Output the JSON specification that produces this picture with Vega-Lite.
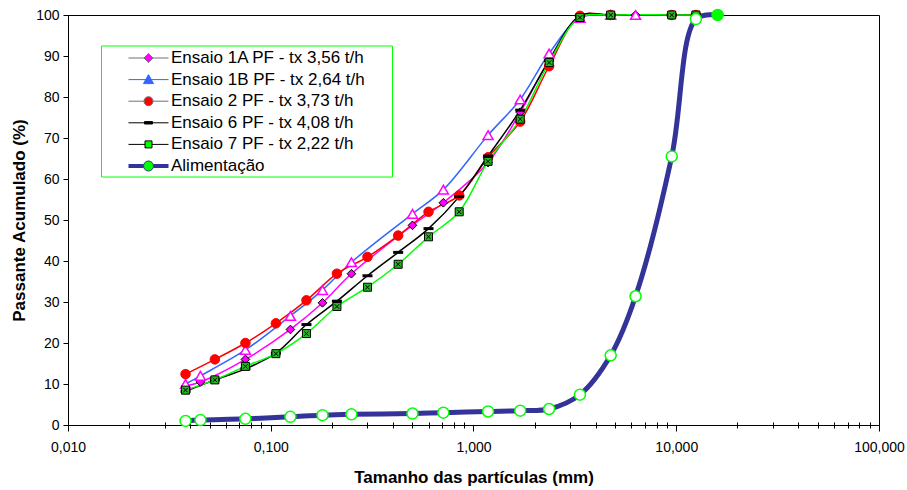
{
  "$schema": "https://vega.github.io/schema/vega-lite/v6.json",
  "width": 811,
  "height": 410,
  "autosize": {"type": "none"},
  "padding": {"left": 68, "top": 15, "right": 28, "bottom": 65},
  "background": "white",
  "config": {
    "font": "Liberation Sans",
    "view": {"stroke": "black", "strokeWidth": 1},
    "axis": {"grid": false, "domainColor": "black", "tickColor": "black", "labelColor": "black", "titleColor": "black", "labelFlush": false, "labelOverlap": false},
    "legend": {"title": null, "orient": "none", "legendX": 33, "legendY": 30.5, "padding": 2, "fillColor": "white", "strokeColor": "#00FF00", "symbolSize": 400, "symbolStrokeWidth": 1, "symbolOffset": 35, "labelOffset": 12, "labelFontSize": 17, "labelColor": "black", "rowPadding": 2.6, "symbolOpacity": 1, "labelLimit": 0}
  },
  "datasets": {
    "pts": [
      {"s": "Ensaio 1A PF - tx 3,56 t/h", "d": 0.038, "p": 9.5},
      {"s": "Ensaio 1A PF - tx 3,56 t/h", "d": 0.045, "p": 10.5},
      {"s": "Ensaio 1A PF - tx 3,56 t/h", "d": 0.075, "p": 16.0},
      {"s": "Ensaio 1A PF - tx 3,56 t/h", "d": 0.125, "p": 23.3},
      {"s": "Ensaio 1A PF - tx 3,56 t/h", "d": 0.18, "p": 29.8},
      {"s": "Ensaio 1A PF - tx 3,56 t/h", "d": 0.25, "p": 36.9},
      {"s": "Ensaio 1A PF - tx 3,56 t/h", "d": 0.5, "p": 48.7},
      {"s": "Ensaio 1A PF - tx 3,56 t/h", "d": 0.71, "p": 54.2},
      {"s": "Ensaio 1A PF - tx 3,56 t/h", "d": 1.18, "p": 64.0},
      {"s": "Ensaio 1A PF - tx 3,56 t/h", "d": 1.7, "p": 76.3},
      {"s": "Ensaio 1A PF - tx 3,56 t/h", "d": 2.36, "p": 89.0},
      {"s": "Ensaio 1A PF - tx 3,56 t/h", "d": 3.35, "p": 99.5},
      {"s": "Ensaio 1A PF - tx 3,56 t/h", "d": 4.75, "p": 100},
      {"s": "Ensaio 1A PF - tx 3,56 t/h", "d": 6.3, "p": 100},
      {"s": "Ensaio 1B PF - tx 2,64 t/h", "d": 0.038, "p": 10.0},
      {"s": "Ensaio 1B PF - tx 2,64 t/h", "d": 0.045, "p": 12.0},
      {"s": "Ensaio 1B PF - tx 2,64 t/h", "d": 0.075, "p": 18.3},
      {"s": "Ensaio 1B PF - tx 2,64 t/h", "d": 0.125, "p": 26.6},
      {"s": "Ensaio 1B PF - tx 2,64 t/h", "d": 0.18, "p": 32.9},
      {"s": "Ensaio 1B PF - tx 2,64 t/h", "d": 0.25, "p": 39.7},
      {"s": "Ensaio 1B PF - tx 2,64 t/h", "d": 0.5, "p": 51.5},
      {"s": "Ensaio 1B PF - tx 2,64 t/h", "d": 0.71, "p": 57.4},
      {"s": "Ensaio 1B PF - tx 2,64 t/h", "d": 1.18, "p": 70.7},
      {"s": "Ensaio 1B PF - tx 2,64 t/h", "d": 1.7, "p": 79.4},
      {"s": "Ensaio 1B PF - tx 2,64 t/h", "d": 2.36, "p": 90.6},
      {"s": "Ensaio 1B PF - tx 2,64 t/h", "d": 3.35, "p": 99.3},
      {"s": "Ensaio 1B PF - tx 2,64 t/h", "d": 4.75, "p": 100},
      {"s": "Ensaio 1B PF - tx 2,64 t/h", "d": 6.3, "p": 100},
      {"s": "Ensaio 2 PF - tx 3,73 t/h", "d": 0.038, "p": 12.4},
      {"s": "Ensaio 2 PF - tx 3,73 t/h", "d": 0.053, "p": 16.0},
      {"s": "Ensaio 2 PF - tx 3,73 t/h", "d": 0.075, "p": 20.0},
      {"s": "Ensaio 2 PF - tx 3,73 t/h", "d": 0.106, "p": 24.8},
      {"s": "Ensaio 2 PF - tx 3,73 t/h", "d": 0.15, "p": 30.4},
      {"s": "Ensaio 2 PF - tx 3,73 t/h", "d": 0.212, "p": 36.9},
      {"s": "Ensaio 2 PF - tx 3,73 t/h", "d": 0.3, "p": 41.0},
      {"s": "Ensaio 2 PF - tx 3,73 t/h", "d": 0.425, "p": 46.2},
      {"s": "Ensaio 2 PF - tx 3,73 t/h", "d": 0.6, "p": 52.0},
      {"s": "Ensaio 2 PF - tx 3,73 t/h", "d": 0.85, "p": 56.0},
      {"s": "Ensaio 2 PF - tx 3,73 t/h", "d": 1.18, "p": 65.3},
      {"s": "Ensaio 2 PF - tx 3,73 t/h", "d": 1.7, "p": 74.0},
      {"s": "Ensaio 2 PF - tx 3,73 t/h", "d": 2.36, "p": 87.5},
      {"s": "Ensaio 2 PF - tx 3,73 t/h", "d": 3.35, "p": 99.8},
      {"s": "Ensaio 2 PF - tx 3,73 t/h", "d": 4.75, "p": 100},
      {"s": "Ensaio 2 PF - tx 3,73 t/h", "d": 9.5, "p": 100},
      {"s": "Ensaio 2 PF - tx 3,73 t/h", "d": 12.5, "p": 100},
      {"s": "Ensaio 6 PF - tx 4,08 t/h", "d": 0.038, "p": 8.2},
      {"s": "Ensaio 6 PF - tx 4,08 t/h", "d": 0.053, "p": 11.0},
      {"s": "Ensaio 6 PF - tx 4,08 t/h", "d": 0.075, "p": 13.7},
      {"s": "Ensaio 6 PF - tx 4,08 t/h", "d": 0.106, "p": 17.5},
      {"s": "Ensaio 6 PF - tx 4,08 t/h", "d": 0.15, "p": 24.5},
      {"s": "Ensaio 6 PF - tx 4,08 t/h", "d": 0.212, "p": 30.2},
      {"s": "Ensaio 6 PF - tx 4,08 t/h", "d": 0.3, "p": 36.4},
      {"s": "Ensaio 6 PF - tx 4,08 t/h", "d": 0.425, "p": 42.1},
      {"s": "Ensaio 6 PF - tx 4,08 t/h", "d": 0.6, "p": 47.9},
      {"s": "Ensaio 6 PF - tx 4,08 t/h", "d": 0.85, "p": 55.7},
      {"s": "Ensaio 6 PF - tx 4,08 t/h", "d": 1.18, "p": 65.6},
      {"s": "Ensaio 6 PF - tx 4,08 t/h", "d": 1.7, "p": 76.8},
      {"s": "Ensaio 6 PF - tx 4,08 t/h", "d": 2.36, "p": 88.9},
      {"s": "Ensaio 6 PF - tx 4,08 t/h", "d": 3.35, "p": 99.8},
      {"s": "Ensaio 6 PF - tx 4,08 t/h", "d": 4.75, "p": 100},
      {"s": "Ensaio 6 PF - tx 4,08 t/h", "d": 9.5, "p": 100},
      {"s": "Ensaio 6 PF - tx 4,08 t/h", "d": 12.5, "p": 100},
      {"s": "Ensaio 7 PF - tx 2,22 t/h", "d": 0.038, "p": 8.5},
      {"s": "Ensaio 7 PF - tx 2,22 t/h", "d": 0.053, "p": 11.0},
      {"s": "Ensaio 7 PF - tx 2,22 t/h", "d": 0.075, "p": 14.3},
      {"s": "Ensaio 7 PF - tx 2,22 t/h", "d": 0.106, "p": 17.4},
      {"s": "Ensaio 7 PF - tx 2,22 t/h", "d": 0.15, "p": 22.3},
      {"s": "Ensaio 7 PF - tx 2,22 t/h", "d": 0.212, "p": 28.9},
      {"s": "Ensaio 7 PF - tx 2,22 t/h", "d": 0.3, "p": 33.6},
      {"s": "Ensaio 7 PF - tx 2,22 t/h", "d": 0.425, "p": 39.2},
      {"s": "Ensaio 7 PF - tx 2,22 t/h", "d": 0.6, "p": 45.9},
      {"s": "Ensaio 7 PF - tx 2,22 t/h", "d": 0.85, "p": 52.0},
      {"s": "Ensaio 7 PF - tx 2,22 t/h", "d": 1.18, "p": 64.3},
      {"s": "Ensaio 7 PF - tx 2,22 t/h", "d": 1.7, "p": 74.6},
      {"s": "Ensaio 7 PF - tx 2,22 t/h", "d": 2.36, "p": 88.4},
      {"s": "Ensaio 7 PF - tx 2,22 t/h", "d": 3.35, "p": 99.4},
      {"s": "Ensaio 7 PF - tx 2,22 t/h", "d": 4.75, "p": 100},
      {"s": "Ensaio 7 PF - tx 2,22 t/h", "d": 9.5, "p": 100},
      {"s": "Ensaio 7 PF - tx 2,22 t/h", "d": 12.5, "p": 100},
      {"s": "Alimentação", "d": 0.038, "p": 1.0},
      {"s": "Alimentação", "d": 0.045, "p": 1.2},
      {"s": "Alimentação", "d": 0.075, "p": 1.5},
      {"s": "Alimentação", "d": 0.125, "p": 2.0},
      {"s": "Alimentação", "d": 0.18, "p": 2.4},
      {"s": "Alimentação", "d": 0.25, "p": 2.6},
      {"s": "Alimentação", "d": 0.5, "p": 2.8},
      {"s": "Alimentação", "d": 0.71, "p": 3.0},
      {"s": "Alimentação", "d": 1.18, "p": 3.3},
      {"s": "Alimentação", "d": 1.7, "p": 3.5},
      {"s": "Alimentação", "d": 2.36, "p": 3.9},
      {"s": "Alimentação", "d": 3.35, "p": 7.4},
      {"s": "Alimentação", "d": 4.75, "p": 17.0},
      {"s": "Alimentação", "d": 6.3, "p": 31.4},
      {"s": "Alimentação", "d": 9.5, "p": 65.5},
      {"s": "Alimentação", "d": 12.5, "p": 99.0},
      {"s": "Alimentação", "d": 16, "p": 100}
    ]
  },
  "data": {"name": "pts"},
  "layer": [
    {
      "encoding": {
        "x": {
          "field": "d", "type": "quantitative",
          "scale": {"type": "log", "domain": [0.01, 100], "nice": false},
          "axis": {
            "orient": "bottom",
            "values": [0.01, 0.1, 1, 10, 100],
            "labelExpr": "replace(format(datum.value, '.3f'), '.', ',')",
            "tickSize": 6, "labelPadding": 9, "labelFontSize": 14,
            "title": "Tamanho das partículas (mm)", "titleFontSize": 17, "titleFontWeight": "bold",
            "titleY": 57, "titleBaseline": "alphabetic"
          }
        },
        "y": {
          "field": "p", "type": "quantitative",
          "scale": {"domain": [0, 100], "nice": false},
          "axis": {
            "values": [0, 10, 20, 30, 40, 50, 60, 70, 80, 90, 100],
            "tickSize": 5, "labelPadding": 4, "labelFontSize": 14,
            "title": "Passante Acumulado (%)", "titleFontSize": 17, "titleFontWeight": "bold",
            "titleX": -44, "titleBaseline": "alphabetic"
          }
        }
      },
      "layer": [
        {
          "transform": [{"filter": "datum.s !== 'Alimentação'"}],
          "mark": {"type": "line", "interpolate": "catmull-rom", "strokeWidth": 1.5},
          "encoding": {
            "color": {
              "field": "s", "type": "nominal", "legend": null,
              "scale": {
                "domain": ["Ensaio 1A PF - tx 3,56 t/h", "Ensaio 1B PF - tx 2,64 t/h", "Ensaio 2 PF - tx 3,73 t/h", "Ensaio 6 PF - tx 4,08 t/h", "Ensaio 7 PF - tx 2,22 t/h"],
                "range": ["#FF00FF", "#3366FF", "#FF0000", "#000000", "#00FF00"]
              }
            }
          }
        },
        {
          "transform": [{"filter": "datum.s === 'Alimentação'"}],
          "mark": {"type": "line", "interpolate": "catmull-rom", "strokeWidth": 5, "color": "#333399"},
          "encoding": {}
        },
        {
          "transform": [{"filter": "datum.s === 'Ensaio 1A PF - tx 3,56 t/h'"}],
          "mark": {"type": "point", "shape": "diamond", "filled": true, "fill": "#FF00FF", "stroke": "#000000", "strokeWidth": 1, "size": 75, "opacity": 1},
          "encoding": {}
        },
        {
          "transform": [{"filter": "datum.s === 'Ensaio 1B PF - tx 2,64 t/h'"}],
          "mark": {"type": "point", "shape": "triangle-up", "filled": true, "fill": "#FFFFFF", "stroke": "#FF00FF", "strokeWidth": 1.5, "size": 100, "opacity": 1},
          "encoding": {}
        },
        {
          "transform": [{"filter": "datum.s === 'Ensaio 2 PF - tx 3,73 t/h'"}],
          "mark": {"type": "point", "shape": "circle", "filled": true, "fill": "#FF0000", "stroke": "#FF0000", "strokeWidth": 1, "size": 90, "opacity": 1},
          "encoding": {}
        },
        {
          "transform": [{"filter": "datum.s === 'Ensaio 6 PF - tx 4,08 t/h'"}],
          "mark": {"type": "point", "shape": "M-1,-0.3H1V0.3H-1Z", "filled": true, "fill": "#000000", "strokeWidth": 0, "size": 100, "opacity": 1},
          "encoding": {}
        },
        {
          "transform": [{"filter": "datum.s === 'Ensaio 7 PF - tx 2,22 t/h'"}],
          "mark": {"type": "point", "shape": "M-1,-1H1V1H-1ZM-0.55,-0.55L0.55,0.55M-0.55,0.55L0.55,-0.55", "filled": true, "fill": "#22B822", "stroke": "#000000", "strokeWidth": 1, "size": 64, "opacity": 1},
          "encoding": {}
        },
        {
          "transform": [{"filter": "datum.s === 'Alimentação'"}],
          "mark": {"type": "point", "shape": "circle", "filled": true, "stroke": "#00FF00", "strokeWidth": 1.5, "size": 121, "opacity": 1},
          "encoding": {
            "fill": {"condition": {"test": "datum.d >= 16", "value": "#00FF00"}, "value": "#FFFFFF"}
          }
        },
        {
          "mark": {"type": "point", "filled": true, "opacity": 0},
          "encoding": {
            "shape": {
              "field": "s", "type": "nominal",
              "scale": {
                "domain": ["Ensaio 1A PF - tx 3,56 t/h", "Ensaio 1B PF - tx 2,64 t/h", "Ensaio 2 PF - tx 3,73 t/h", "Ensaio 6 PF - tx 4,08 t/h", "Ensaio 7 PF - tx 2,22 t/h", "Alimentação"],
                "range": [
                  "M-2,0H-0.45M0.45,0H2M0,-0.45L0.45,0L0,0.45L-0.45,0ZM23.9,0",
                  "M-2,0H2M0,-0.5L0.5,0.4L-0.5,0.4ZM23.9,0",
                  "M-2,0H-0.45M0.45,0H2M-0.45,0A0.45,0.45,0,1,0,0.45,0A0.45,0.45,0,1,0,-0.45,0ZM23.9,0",
                  "M-2,0H2M-0.4,-0.12H0.4V0.12H-0.4ZM23.9,0",
                  "M-2,0H-0.35M0.35,0H2M-0.35,-0.35H0.35V0.35H-0.35ZM23.9,0",
                  "M-2,-0.15H-0.5M0.5,-0.15H2M-2,-0.05H-0.5M0.5,-0.05H2M-2,0.05H-0.5M0.5,0.05H2M-2,0.15H-0.5M0.5,0.15H2M-0.5,0A0.5,0.5,0,1,0,0.5,0A0.5,0.5,0,1,0,-0.5,0ZM23.9,0"
                ]
              }
            },
            "fill": {
              "field": "s", "type": "nominal",
              "scale": {
                "domain": ["Ensaio 1A PF - tx 3,56 t/h", "Ensaio 1B PF - tx 2,64 t/h", "Ensaio 2 PF - tx 3,73 t/h", "Ensaio 6 PF - tx 4,08 t/h", "Ensaio 7 PF - tx 2,22 t/h", "Alimentação"],
                "range": ["#FF00FF", "#3366FF", "#FF0000", "#000000", "#00FF00", "#00FF00"]
              }
            },
            "stroke": {
              "field": "s", "type": "nominal",
              "scale": {
                "domain": ["Ensaio 1A PF - tx 3,56 t/h", "Ensaio 1B PF - tx 2,64 t/h", "Ensaio 2 PF - tx 3,73 t/h", "Ensaio 6 PF - tx 4,08 t/h", "Ensaio 7 PF - tx 2,22 t/h", "Alimentação"],
                "range": ["#707070", "#3366FF", "#707070", "#000000", "#000000", "#333399"]
              }
            }
          }
        }
      ]
    },
    {
      "mark": {"type": "point", "opacity": 0},
      "encoding": {
        "x": {
          "field": "d", "type": "quantitative",
          "scale": {"type": "log", "domain": [0.01, 100], "nice": false},
          "axis": {
            "orient": "bottom",
            "values": [0.02, 0.03, 0.04, 0.05, 0.06, 0.07, 0.08, 0.09, 0.2, 0.3, 0.4, 0.5, 0.6, 0.7, 0.8, 0.9, 2, 3, 4, 5, 6, 7, 8, 9, 20, 30, 40, 50, 60, 70, 80, 90],
            "labels": false, "domain": false, "ticks": true, "tickSize": 6, "offset": -3, "title": null, "grid": false
          }
        }
      }
    }
  ],
  "resolve": {"axis": {"x": "independent"}}
}
